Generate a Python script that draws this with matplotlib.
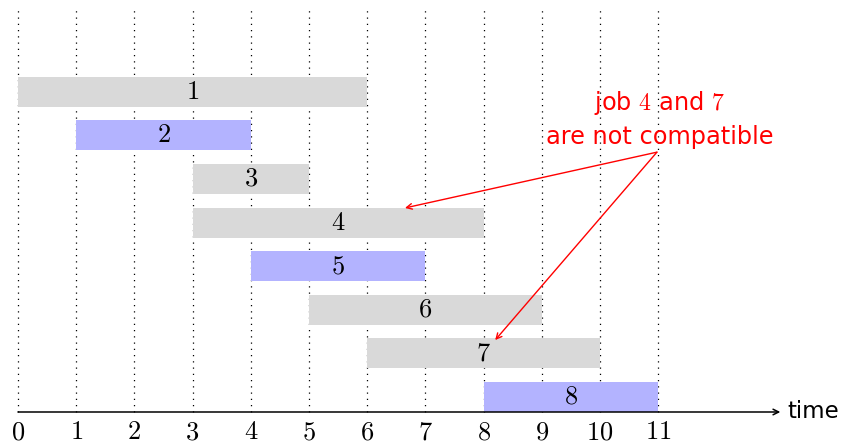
"""Interval scheduling chart: jobs on a time axis."""

import matplotlib

matplotlib.use("Agg")
import matplotlib.pyplot as plt

plt.rcParams["mathtext.fontset"] = "cm"
plt.rcParams["font.family"] = ["DejaVu Sans"]

jobs = [1, 2, 3, 4, 5, 6, 7, 8]
starts = [0, 1, 3, 3, 4, 5, 6, 8]
ends = [6, 4, 5, 8, 7, 9, 10, 11]
highlighted = [2, 5, 8]
time_ticks = list(range(12))

GRAY = "#d9d9d9"
BLUE = "#b3b3ff"

fig = plt.figure(figsize=(8.42, 4.44), dpi=100)
ax = fig.add_axes([0, 0, 1, 1])
ax.set_xlim(-0.309, 14.16)
ax.set_ylim(-0.734, 9.45)
ax.axis("off")

bar_h = 0.69
top = len(jobs)

# dotted grid lines behind the bars
for t in time_ticks:
    ax.plot([t, t], [0, 9.25], color="black", lw=0.9,
            linestyle=(0, (1, 4)), zorder=1)

for job, s, e in zip(jobs, starts, ends):
    y = top - job
    color = BLUE if job in highlighted else GRAY
    ax.barh(y, e - s, left=s, height=bar_h, align="edge",
            color=color, edgecolor="none", zorder=2)
    ax.text((s + e) / 2, y + bar_h / 2, f"${job}$", ha="center",
            va="center", fontsize=19, zorder=3)

# time axis
ax.annotate("", xy=(13.1, 0), xytext=(0, 0),
            arrowprops=dict(arrowstyle="->", color="black", lw=1.1,
                            shrinkA=0, shrinkB=0), zorder=3)
ax.text(13.22, 0.02, "time", ha="left", va="center", fontsize=16.5)

for t in time_ticks:
    ax.text(t, -0.47, f"${t}$", ha="center", va="center", fontsize=19)

# annotation about jobs 4 and 7
ax.text(11.02, 7.09, "job $4$ and $7$", color="red", ha="center",
        va="center", fontsize=17.3)
ax.text(11.02, 6.31, "are not compatible", color="red", ha="center",
        va="center", fontsize=17.3)
src = (10.98, 5.96)
for target in [(6.65, 4.68), (8.2, 1.65)]:
    ax.annotate("", xy=target, xytext=src,
                arrowprops=dict(arrowstyle="->", color="red", lw=1.0,
                                shrinkA=0, shrinkB=0), zorder=4)

fig.savefig("out.png", dpi=100)
